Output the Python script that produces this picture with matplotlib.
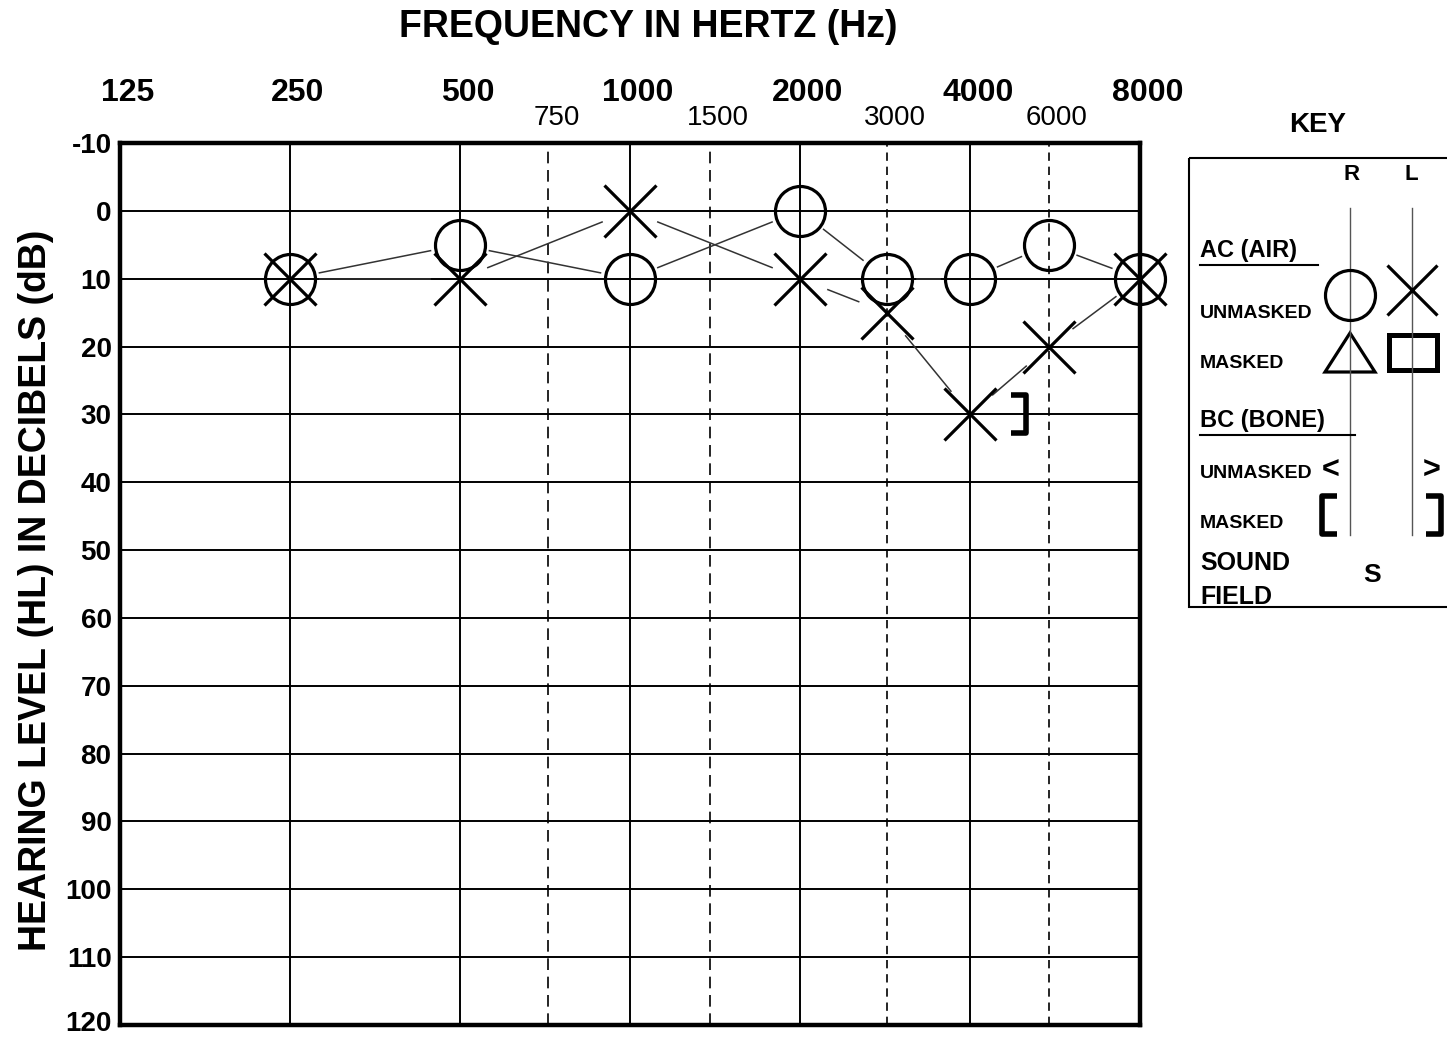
import numpy as np
import matplotlib
matplotlib.use('Agg')
import matplotlib.pyplot as plt
import matplotlib.transforms as mtransforms
from matplotlib.path import Path
from matplotlib.markers import MarkerStyle
from matplotlib.patches import Rectangle, Polygon

plt.rcParams['font.family'] = ['Liberation Sans', 'DejaVu Sans']

# Audiogram data (dB HL)
freqs = [250, 500, 1000, 2000, 3000, 4000, 6000, 8000]
right_air = [10, 5, 10, 0, 10, 10, 5, 10]
left_air = [10, 10, 0, 10, 15, 30, 20, 10]
left_bone_freqs = [4000]
left_bone_masked = [30]

octave_ticks = [125, 250, 500, 1000, 2000, 4000, 8000]
mid_ticks = [750, 1500, 3000, 6000]
db_ticks = list(range(-10, 121, 10))

# Audiogram form: half-octave lines sit near the middle of each octave
scale_freqs = [125, 250, 500, 750, 1000, 1500, 2000, 3000, 4000, 6000, 8000]
scale_pos = [0, 1, 2, 2.52, 3, 3.47, 4, 4.51, 5, 5.465, 6]
scale_oct = np.log2(np.array(scale_freqs) / 125)


def forward(f):
    f = np.clip(np.asarray(f, dtype=float), 1e-6, None)
    return np.interp(np.log2(f / 125), scale_oct, scale_pos,
                     left=-99, right=99)


def inverse(p):
    return 125 * 2 ** np.interp(p, scale_pos, scale_oct)


fig = plt.figure(figsize=(14.47, 10.38), dpi=100)
ax = fig.add_axes([0.0829, 0.0125, 0.7049, 0.8497])

ax.set_xscale('function', functions=(forward, inverse))
ax.set_xlim(125, 8000)
ax.set_ylim(120, -10)

# Tick labels on top
ax.xaxis.tick_top()
ax.set_xticks(octave_ticks)
ax.set_xticklabels([str(f) for f in octave_ticks], fontsize=23, fontweight='bold')
ax.set_xticks(mid_ticks, minor=True)
ax.set_xticklabels([str(f) for f in mid_ticks], minor=True, fontsize=20)
ax.tick_params(axis='x', which='major', length=0, pad=25)
ax.tick_params(axis='x', which='minor', length=0, pad=9)
ax.set_yticks(db_ticks)
ax.set_yticklabels([str(d) for d in db_ticks], fontsize=20, fontweight='bold')
ax.tick_params(axis='y', length=0, pad=6)

# labels on the printed form sit a little right of their lines
nudge = mtransforms.ScaledTranslation(0.08, 0, fig.dpi_scale_trans)
for t in ax.xaxis.get_major_ticks() + ax.xaxis.get_minor_ticks():
    t.label2.set_transform(t.label2.get_transform() + nudge)
last = ax.yaxis.get_major_ticks()[-1].label1
last.set_transform(last.get_transform() + mtransforms.ScaledTranslation(0, 0.04, fig.dpi_scale_trans))

for s in ax.spines.values():
    s.set_linewidth(3.2)

# Grid
for f in octave_ticks[1:-1]:
    ax.axvline(f, color='black', lw=1.4, zorder=1)
for f in mid_ticks[:2]:
    ax.axvline(f, color='black', lw=1.2, ls=(0, (7, 4)), zorder=1)
for f in mid_ticks[2:]:
    ax.axvline(f, color='black', lw=1.2, ls=(0, (5, 3.5)), zorder=1)
for d in db_ticks[1:-1]:
    ax.axhline(d, color='black', lw=1.4, zorder=1)


# Connecting lines stop short of the symbols
def gap_line(x0, y0, x1, y1, gap=30):
    p0 = ax.transData.transform((x0, y0))
    p1 = ax.transData.transform((x1, y1))
    u = (p1 - p0) / np.hypot(*(p1 - p0))
    a = ax.transData.inverted().transform(p0 + u * gap)
    b = ax.transData.inverted().transform(p1 - u * gap)
    ax.plot([a[0], b[0]], [a[1], b[1]], color='#333333', lw=1.1, zorder=3)


for i in range(len(freqs) - 1):
    gap_line(freqs[i], right_air[i], freqs[i + 1], right_air[i + 1])
    gap_line(freqs[i], left_air[i], freqs[i + 1], left_air[i + 1])

# Symbols
ax.plot(freqs, right_air, ls='none', marker='o', ms=36, mfc='none', mec='black',
        mew=2.3, clip_on=False, zorder=4)
ax.plot(freqs, left_air, ls='none', marker='x', ms=38, mec='black',
        mew=2.3, clip_on=False, zorder=4)

bracket_path = Path([(-0.2, 0.5), (0.2, 0.5), (0.2, -0.5), (-0.2, -0.5)],
                    [Path.MOVETO, Path.LINETO, Path.LINETO, Path.LINETO])
bracket_r = MarkerStyle(bracket_path, joinstyle='miter')
bracket_l = MarkerStyle(bracket_path.transformed(mtransforms.Affine2D().scale(-1, 1)),
                        joinstyle='miter')
shift = mtransforms.offset_copy(ax.transData, fig=fig, x=48, y=0, units='dots')
ax.plot(left_bone_freqs, left_bone_masked, ls='none', marker=bracket_r, ms=27,
        mew=4, mec='black', mfc='none', transform=shift, zorder=4)

ax.set_ylabel('HEARING LEVEL (HL) IN DECIBELS (dB)', fontsize=27, fontweight='bold')
ax.yaxis.set_label_coords(-0.065, 0.493)

# Overlay in pixel units for title and key
kax = fig.add_axes([0, 0, 1, 1])
kax.set_xlim(0, 1447)
kax.set_ylim(1038, 0)
kax.axis('off')

kax.text(648, 27, 'FREQUENCY IN HERTZ (Hz)', ha='center', va='center',
         fontsize=27, fontweight='bold')

kax.text(1318, 125, 'KEY', ha='center', va='center', fontsize=20, fontweight='bold')
kax.add_patch(Rectangle((1189, 158), 300, 449, fill=False, lw=1.5, ec='black'))
kax.text(1352, 174, 'R', ha='center', va='center', fontsize=16, fontweight='bold')
kax.text(1411, 174, 'L', ha='center', va='center', fontsize=16, fontweight='bold')
kax.plot([1350, 1350], [208, 535], color='#555555', lw=1)
kax.plot([1412, 1412], [208, 535], color='#555555', lw=1)

kax.text(1200, 250, 'AC (AIR)', ha='left', va='center', fontsize=17, fontweight='bold')
kax.plot([1200, 1318], [265, 265], color='black', lw=1.5)
kax.text(1200, 314, 'UNMASKED', ha='left', va='center', fontsize=14, fontweight='bold')
kax.plot(1350, 295, marker='o', ms=36, mfc='none', mec='black', mew=2.3)
kax.plot(1412, 290, marker='x', ms=36, mec='black', mew=2.3)
kax.text(1200, 364, 'MASKED', ha='left', va='center', fontsize=14, fontweight='bold')
kax.add_patch(Polygon([[1325, 372], [1375, 372], [1350, 333]], fill=False, lw=2.3,
                      ec='black'))
kax.add_patch(Rectangle((1389, 335), 48, 35, fill=False, lw=3.6, ec='black'))

kax.text(1200, 420, 'BC (BONE)', ha='left', va='center', fontsize=17, fontweight='bold')
kax.plot([1200, 1355], [435, 435], color='black', lw=1.5)
kax.text(1200, 474, 'UNMASKED', ha='left', va='center', fontsize=14, fontweight='bold')
kax.text(1331, 471, '<', ha='center', va='center', fontsize=22, fontweight='bold')
kax.text(1432, 471, '>', ha='center', va='center', fontsize=22, fontweight='bold')
kax.text(1200, 524, 'MASKED', ha='left', va='center', fontsize=14, fontweight='bold')
kax.plot(1329, 515, marker=bracket_l, ms=27, mew=4, mec='black', mfc='none')
kax.plot(1433, 515, marker=bracket_r, ms=27, mew=4, mec='black', mfc='none')

kax.text(1200, 563, 'SOUND', ha='left', va='center', fontsize=18, fontweight='bold')
kax.text(1200, 597, 'FIELD', ha='left', va='center', fontsize=18, fontweight='bold')
kax.text(1372, 575, 'S', ha='center', va='center', fontsize=19, fontweight='bold')

fig.savefig('out.png', dpi=100)
